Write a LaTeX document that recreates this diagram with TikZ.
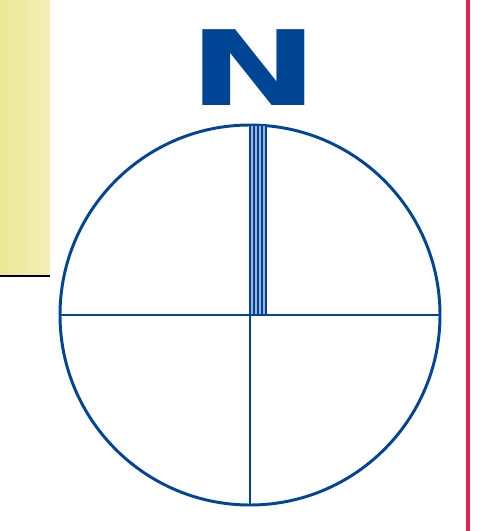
\documentclass[tikz,border=0pt]{standalone}
\usepackage{fontspec}
\newfontfamily\letterfont{DejaVu Sans}
\usetikzlibrary{calc}
\definecolor{dialblue}{HTML}{004494}
\definecolor{stripegap}{HTML}{9DB3D9}
\definecolor{marginred}{HTML}{D8284E}
\definecolor{paneldark}{HTML}{ECE897}
\definecolor{panellight}{HTML}{F3EFB6}
\begin{document}
\begin{tikzpicture}[x=0.25mm,y=-0.25mm]
    \tikzset{
        dialline/.style={draw=dialblue, line width=2.1pt},
        stripe/.style={draw=dialblue, line width=1.5pt}
    }
    \useasboundingbox (0,0) rectangle (486,531);
    % Side panel
    \shade[left color=paneldark, right color=panellight] (0,0) rectangle (50,276);
    \draw[black, line width=1.4pt] (0,276) -- (50,276);
    % Margin rule
    \draw[marginred, line width=3.2pt] (468,0) -- (468,531);

    % North letter
    \node[text=dialblue, inner sep=0, anchor=base, xscale=1.5]
        (north) at (254,105) {\fontsize{74}{74}\selectfont\letterfont\bfseries N};

    % Dial
    \node[circle, dialline, minimum size=95mm, inner sep=0] (dial) at (250,315) {};
    % Striped needle
    \fill[stripegap] (dial.center) rectangle ($(dial.north)+(16,2)$);
    \foreach \dx in {0,4,8,12,16}
        \draw[stripe] ($(dial.center)+(\dx,0)$) -- ($(dial.north)+(\dx,1)$);
    % Cross lines
    \draw[dialline] (dial.west) -- (dial.east);
    \draw[dialline] (dial.center) -- (dial.south);
\end{tikzpicture}
\end{document}
